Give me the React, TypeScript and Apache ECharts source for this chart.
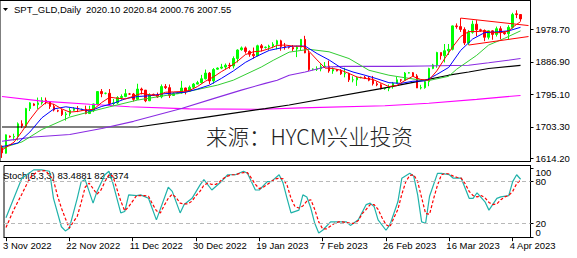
import React, { useEffect, useRef } from 'react';
import * as echarts from 'echarts';

const symbolName = 'SPT_GLD,Daily';
const watermark = '来源：HYCM兴业投资';
const stochName = 'Stoch(5,3,3)';
const tickLabels = ['3 Nov 2022', '22 Nov 2022', '11 Dec 2022', '30 Dec 2022', '19 Jan 2023', '7 Feb 2023', '26 Feb 2023', '16 Mar 2023', '4 Apr 2023'];
const holidays = ['25 Dec 2022', '1 Jan 2023'];
const priceTicks = [1614.2, 1703.3, 1795.1, 1886.9, 1978.7];
const stochLevels = [20, 80];
const stochBounds = [0, 100];

const opens = [
  1649, 1629, 1677, 1675, 1676, 1712, 1705, 1755, 1768, 1766,
  1771, 1778, 1774, 1761, 1749, 1750, 1738, 1740, 1750, 1755,
  1751, 1753, 1741, 1749, 1768, 1803, 1798, 1798, 1769, 1771,
  1786, 1789, 1796, 1796, 1781, 1810, 1807, 1777, 1795, 1793,
  1788, 1817, 1814, 1792, 1797, 1799, 1813, 1804, 1815, 1824,
  1828, 1839, 1855, 1833, 1866, 1869, 1872, 1877, 1875, 1896,
  1921, 1926, 1916, 1908, 1904, 1932, 1927, 1928, 1931, 1936,
  1946, 1930, 1927, 1927, 1923, 1928, 1950, 1912, 1866, 1866,
  1867, 1873, 1875, 1861, 1863, 1861, 1853, 1854, 1836, 1836,
  1843, 1843, 1841, 1835, 1825, 1822, 1811, 1812, 1817, 1826,
  1836, 1835, 1855, 1856, 1847, 1813, 1814, 1831, 1868, 1878,
  1913, 1904, 1918, 1922, 1988, 1986, 1978, 1940, 1970, 1993,
  1977, 1975, 1956, 1974, 1964, 1980, 1969, 1966, 1984, 2022,
  2020.10,
];
const highs = [
  1651, 1682, 1679, 1684, 1716, 1722, 1757, 1773, 1770, 1786,
  1787, 1786, 1776, 1768, 1752, 1754, 1746, 1757, 1759, 1762,
  1755, 1763, 1763, 1769, 1804, 1810, 1800, 1810, 1782, 1790,
  1795, 1810, 1799, 1799, 1825, 1814, 1807, 1798, 1797, 1800,
  1823, 1824, 1823, 1801, 1801, 1833, 1814, 1820, 1827, 1833,
  1850, 1865, 1858, 1869, 1871, 1881, 1882, 1884, 1902, 1922,
  1930, 1930, 1919, 1927, 1935, 1937, 1930, 1935, 1942, 1949,
  1949, 1940, 1929, 1934, 1932, 1951, 1960, 1918, 1868, 1874,
  1880, 1886, 1890, 1871, 1866, 1866, 1870, 1856, 1846, 1845,
  1845, 1847, 1846, 1847, 1831, 1826, 1813, 1823, 1830, 1844,
  1838, 1858, 1858, 1858, 1852, 1822, 1834, 1870, 1881, 1915,
  1913, 1937, 1937, 1989, 1995, 2010, 1984, 1976, 2003, 2004,
  1980, 1978, 1975, 1976, 1986, 1987, 1973, 1990, 2025, 2032,
  2020.84,
];
const lows = [
  1616, 1628, 1673, 1665, 1665, 1700, 1701, 1748, 1762, 1754,
  1766, 1767, 1754, 1747, 1745, 1734, 1721, 1733, 1748, 1745,
  1749, 1739, 1740, 1745, 1765, 1787, 1795, 1765, 1764, 1768,
  1780, 1787, 1794, 1775, 1779, 1795, 1773, 1776, 1791, 1785,
  1784, 1810, 1785, 1791, 1796, 1797, 1795, 1803, 1812, 1823,
  1825, 1837, 1824, 1825, 1864, 1866, 1865, 1867, 1868, 1885,
  1918, 1910, 1901, 1896, 1902, 1916, 1924, 1920, 1925, 1922,
  1918, 1921, 1924, 1917, 1900, 1919, 1911, 1861, 1863, 1861,
  1860, 1871, 1856, 1853, 1860, 1850, 1843, 1830, 1829, 1819,
  1840, 1838, 1832, 1820, 1818, 1809, 1808, 1804, 1811, 1826,
  1830, 1834, 1854, 1846, 1813, 1809, 1811, 1818, 1866, 1870,
  1893, 1885, 1906, 1919, 1980, 1971, 1934, 1934, 1966, 1959,
  1971, 1945, 1950, 1949, 1958, 1950, 1963, 1950, 1980, 2010,
  2000.76,
];
const closes = [
  1630, 1681, 1675, 1676, 1712, 1706, 1755, 1771, 1764, 1771,
  1778, 1774, 1761, 1751, 1748, 1738, 1740, 1750, 1755, 1754,
  1753, 1741, 1749, 1768, 1803, 1797, 1798, 1769, 1771, 1786,
  1789, 1797, 1796, 1781, 1810, 1807, 1777, 1793, 1793, 1788,
  1817, 1814, 1792, 1797, 1799, 1813, 1804, 1815, 1824, 1828,
  1839, 1855, 1833, 1865, 1869, 1872, 1877, 1875, 1896, 1920,
  1926, 1916, 1908, 1904, 1932, 1926, 1928, 1931, 1936, 1946,
  1930, 1928, 1927, 1923, 1928, 1950, 1912, 1865, 1866, 1867,
  1873, 1875, 1861, 1865, 1861, 1853, 1854, 1836, 1836, 1842,
  1843, 1841, 1835, 1825, 1822, 1811, 1812, 1817, 1826, 1836,
  1835, 1855, 1856, 1847, 1813, 1814, 1831, 1868, 1878, 1913,
  1904, 1918, 1922, 1988, 1986, 1978, 1940, 1970, 1993, 1977,
  1975, 1956, 1974, 1964, 1980, 1969, 1966, 1984, 2020, 2020,
  2007.55,
];

// moving averages: [bar index, price]
const maRed = [[0, 1638], [1, 1646], [3, 1660], [5, 1690], [7, 1724], [9, 1753], [11, 1772], [13, 1767], [15, 1754], [17, 1745], [19, 1747], [21, 1751], [23, 1753], [25, 1772], [27, 1787], [29, 1784], [31, 1782], [33, 1790], [35, 1798], [37, 1794], [39, 1792], [41, 1801], [43, 1802], [45, 1803], [47, 1806], [49, 1817], [51, 1832], [53, 1844], [55, 1859], [57, 1872], [59, 1888], [61, 1907], [63, 1915], [65, 1917], [67, 1924], [69, 1933], [71, 1934], [73, 1931], [75, 1931], [76, 1928], [77, 1916], [79, 1892], [81, 1869], [83, 1868], [85, 1863], [87, 1854], [89, 1844], [91, 1840], [93, 1837], [95, 1827], [97, 1817], [99, 1820], [101, 1834], [103, 1846], [104, 1841], [105, 1837], [107, 1835], [109, 1861], [111, 1896], [113, 1929], [115, 1958], [117, 1972], [119, 1972], [121, 1974], [123, 1969], [125, 1969], [127, 1973], [128, 1984], [129, 1992], [130, 2000]];
const maBlue = [[0, 1648], [1, 1650], [4, 1658], [7, 1689], [10, 1729], [13, 1754], [16, 1760], [19, 1755], [22, 1748], [25, 1761], [28, 1770], [31, 1783], [34, 1789], [37, 1791], [40, 1796], [43, 1799], [46, 1801], [49, 1810], [52, 1821], [55, 1840], [58, 1861], [61, 1885], [64, 1903], [67, 1919], [70, 1926], [73, 1931], [76, 1931], [79, 1910], [82, 1892], [85, 1870], [88, 1858], [91, 1849], [94, 1839], [97, 1828], [100, 1826], [103, 1832], [106, 1833], [109, 1851], [112, 1871], [115, 1919], [118, 1951], [121, 1969], [124, 1971], [127, 1974], [130, 1984]];
const maGreen = [[0, 1645], [1, 1647], [5, 1661], [10, 1696], [17, 1731], [22, 1746], [27, 1760], [34, 1779], [45, 1799], [54, 1821], [58, 1835], [65, 1872], [68, 1891], [72, 1914], [77, 1922], [82, 1915], [87, 1896], [92, 1863], [97, 1849], [105, 1835], [107, 1834], [112, 1846], [114, 1866], [119, 1905], [122, 1934], [126, 1953], [130, 1974]];
const maPurple = [[0, 1663], [2, 1666], [8, 1675], [17, 1682], [25, 1699], [33, 1719], [45, 1755], [53, 1783], [60, 1807], [66, 1826], [69, 1835], [72, 1849], [76, 1858], [81, 1872], [86, 1874], [99, 1874], [106, 1875], [117, 1877], [122, 1884], [130, 1896]];
const maBlack = [[0, 1703], [34, 1703], [50, 1729], [66, 1755], [72, 1765], [95, 1811], [106, 1835], [112, 1849], [117, 1858], [122, 1868], [130, 1877]];
const maMagenta = [[0, 1789], [10, 1776], [22, 1767], [32, 1760], [47, 1754], [65, 1753], [75, 1757], [96, 1763], [107, 1770], [119, 1781], [130, 1792]];

// trend channel drawn on the chart: [bar index, price]
const channelUpper = [[115, 2010], [132, 1989]];
const channelLower = [[117, 1934], [132, 1958]];

// stochastic (5,3,3): [bar index, value]
const stochMain = [[0, 28], [4, 85], [7, 97], [9, 97], [11, 95], [12, 56], [14, 15], [15, 9], [16, 13], [18, 56], [19, 80], [20, 83], [22, 49], [23, 66], [25, 90], [26, 95], [27, 78], [29, 35], [30, 37], [31, 61], [33, 60], [34, 61], [36, 56], [38, 25], [41, 72], [42, 66], [44, 35], [45, 47], [47, 56], [49, 75], [50, 83], [52, 68], [54, 78], [56, 90], [58, 90], [60, 95], [61, 92], [63, 68], [64, 68], [66, 80], [67, 80], [69, 90], [70, 78], [71, 56], [72, 35], [74, 39], [75, 61], [76, 58], [77, 42], [78, 20], [79, 6], [80, 10], [82, 22], [84, 22], [86, 22], [87, 17], [89, 25], [91, 47], [92, 49], [93, 44], [94, 25], [96, 10], [97, 18], [99, 51], [100, 85], [102, 92], [103, 88], [104, 61], [105, 22], [106, 20], [107, 59], [109, 92], [110, 92], [112, 90], [113, 85], [115, 85], [117, 56], [118, 56], [119, 64], [121, 51], [122, 39], [124, 56], [125, 58], [127, 60], [128, 80], [129, 90], [130, 83.4881]];
const stochSignal = [[0, 14], [2, 40], [4, 62], [6, 85], [8, 95], [10, 96], [12, 82], [13, 60], [14, 42], [15, 27], [16, 13], [17, 22], [18, 30], [19, 50], [20, 72], [21, 78], [22, 70], [23, 62], [24, 68], [25, 80], [26, 90], [27, 88], [28, 70], [29, 52], [30, 38], [31, 44], [32, 52], [33, 60], [34, 60], [35, 60], [36, 59], [37, 48], [38, 38], [39, 35], [40, 46], [41, 56], [42, 62], [43, 57], [44, 49], [45, 48], [46, 48], [47, 52], [48, 60], [49, 66], [50, 75], [51, 78], [52, 76], [53, 76], [54, 80], [55, 85], [56, 88], [57, 90], [58, 90], [59, 92], [60, 93], [61, 93], [62, 85], [63, 76], [64, 70], [65, 72], [66, 76], [67, 80], [68, 84], [69, 85], [70, 84], [71, 75], [72, 56], [73, 44], [74, 42], [75, 45], [76, 52], [77, 54], [78, 40], [79, 22], [80, 12], [81, 12], [82, 16], [83, 20], [84, 22], [85, 22], [86, 21], [87, 20], [88, 20], [89, 24], [90, 34], [91, 40], [92, 47], [93, 47], [94, 40], [95, 28], [96, 18], [97, 15], [98, 28], [99, 40], [100, 62], [101, 80], [102, 89], [103, 90], [104, 80], [105, 57], [106, 34], [107, 33], [108, 55], [109, 75], [110, 90], [111, 92], [112, 91], [113, 88], [114, 86], [115, 85], [116, 77], [117, 66], [118, 60], [119, 58], [120, 60], [121, 57], [122, 50], [123, 47], [124, 48], [125, 54], [126, 58], [127, 60], [128, 66], [129, 77], [130, 82.4374]];

const MONTHS = ['Jan', 'Feb', 'Mar', 'Apr', 'May', 'Jun', 'Jul', 'Aug', 'Sep', 'Oct', 'Nov', 'Dec'];
function buildDates(count: number): string[] {
  const out: string[] = [];
  const d = new Date(Date.UTC(2022, 10, 3));
  while (out.length < count) {
    const label = `${d.getUTCDate()} ${MONTHS[d.getUTCMonth()]} ${d.getUTCFullYear()}`;
    if (d.getUTCDay() !== 6 && !holidays.includes(label)) out.push(label);
    d.setUTCDate(d.getUTCDate() + 1);
  }
  return out;
}

const FONT = 'Liberation Sans';
const FS = 9.5;

function buildOption(): any {
  const dates = buildDates(opens.length);
  const categories = [...dates, ' ', '  '];
  const candleData = opens.map((o, i) => [o, closes[i], lows[i], highs[i]]);
  const last = opens.length - 1;
  const showTick = (_i: number, v: string) => tickLabels.includes(v);
  const ohlcText = [opens[last], highs[last], lows[last], closes[last]].map((v) => v.toFixed(2)).join(' ');
  const stochText = `${stochName} ${stochMain[stochMain.length - 1][1].toFixed(4)} ${stochSignal[stochSignal.length - 1][1].toFixed(4)}`;

  const ma = (data: number[][], color: string, width = 1) => ({
    type: 'line',
    data,
    xAxisIndex: 0,
    yAxisIndex: 0,
    symbol: 'none',
    showSymbol: false,
    silent: true,
    z: 3,
    lineStyle: { color, width },
  });

  const textStyle = { fontFamily: FONT, fontSize: FS, color: '#000' };
  const stochAxisBase = {
    type: 'value', gridIndex: 1, position: 'right', min: -0.45, max: 103.3, offset: 0,
    splitLine: { show: false },
  };

  return {
    animation: false,
    backgroundColor: '#fff',
    grid: [
      { left: -1.5, top: 0.5, width: 532, height: 161, show: true, borderColor: '#000', borderWidth: 1, backgroundColor: 'transparent' },
      { left: -1.5, top: 165.5, width: 532, height: 72, show: true, borderColor: '#000', borderWidth: 1, backgroundColor: 'transparent' },
    ],
    xAxis: [
      {
        type: 'category', gridIndex: 0, data: categories, boundaryGap: true,
        axisLine: { show: false }, axisTick: { show: false }, axisLabel: { show: false }, splitLine: { show: false },
      },
      {
        type: 'category', gridIndex: 1, data: categories, boundaryGap: true,
        axisLine: { show: true, lineStyle: { color: '#000', width: 1 } },
        axisTick: { show: true, interval: showTick, alignWithLabel: true, length: 4, lineStyle: { color: '#000' } },
        axisLabel: { show: true, interval: showTick, align: 'left', margin: 3, padding: [0, 0, 0, -3], showMinLabel: true, ...textStyle },
        splitLine: { show: false },
      },
    ],
    yAxis: [
      {
        type: 'value', gridIndex: 0, position: 'right', min: 1605.8, max: 2059.6,
        splitLine: { show: false },
        axisLine: { show: true, lineStyle: { color: '#000' } },
        axisTick: { show: true, customValues: priceTicks, length: 3, lineStyle: { color: '#000' } },
        axisLabel: { show: true, customValues: priceTicks, showMinLabel: true, showMaxLabel: true, formatter: (v: number) => v.toFixed(2), margin: 5, ...textStyle },
      },
      {
        ...stochAxisBase,
        axisLine: { show: true, lineStyle: { color: '#000' } },
        axisTick: { show: true, customValues: stochLevels, length: 3, lineStyle: { color: '#000' } },
        axisLabel: {
          show: true, customValues: stochLevels, margin: 5, showMinLabel: true, showMaxLabel: true,
          formatter: (v: number) => String(Math.round(v)), ...textStyle,
        },
      },
      {
        ...stochAxisBase,
        axisLine: { show: false },
        axisTick: { show: true, customValues: stochBounds, length: 3, lineStyle: { color: '#000' } },
        axisLabel: {
          show: true, customValues: stochBounds, margin: 5, showMinLabel: true, showMaxLabel: true,
          verticalAlignMinLabel: 'bottom', verticalAlignMaxLabel: 'top',
          formatter: (v: number) => String(Math.round(v)), ...textStyle,
        },
      },
    ],
    series: [
      ma(maMagenta, '#ff00ff', 1.1),
      ma(maBlack, '#000000', 1.2),
      ma(maPurple, '#8a2be2', 1.1),
      {
        type: 'candlestick',
        data: candleData,
        xAxisIndex: 0,
        yAxisIndex: 0,
        barWidth: 2,
        silent: true,
        z: 2,
        itemStyle: { color: '#00ff00', color0: '#ff0000', borderColor: '#00ff00', borderColor0: '#ff0000', borderWidth: 1 },
        markLine: {
          silent: true,
          symbol: ['none', 'none'],
          label: { show: false },
          lineStyle: { color: '#ff0000', width: 1, type: 'solid' },
          data: [
            [{ coord: channelUpper[0] }, { coord: channelUpper[1] }],
            [{ coord: channelLower[0] }, { coord: channelLower[1] }],
            {
              yAxis: closes[last],
              lineStyle: { opacity: 0 },
              label: {
                show: true, position: 'end', distance: 1.5,
                formatter: closes[last].toFixed(2),
                backgroundColor: '#000', color: '#fff', padding: [1, 3, 0, 3],
                fontFamily: FONT, fontSize: FS, lineHeight: 10,
              },
            },
          ],
        },
      },
      ma(maGreen, '#32cd32', 1),
      ma(maBlue, '#0000ff', 1),
      ma(maRed, '#ff0000', 1),
      {
        type: 'line', data: stochMain, xAxisIndex: 1, yAxisIndex: 1, symbol: 'none', showSymbol: false, silent: true, z: 3,
        lineStyle: { color: '#20b2aa', width: 1.2 },
        markLine: {
          silent: true, symbol: ['none', 'none'], label: { show: false },
          lineStyle: { color: '#b8b8b8', width: 1, type: [4, 3] },
          data: stochLevels.map((v) => ({ yAxis: v })),
        },
      },
      {
        type: 'line', data: stochSignal, xAxisIndex: 1, yAxisIndex: 1, symbol: 'none', showSymbol: false, silent: true, z: 4,
        lineStyle: { color: '#ff0000', width: 1.2, type: [3, 2] },
      },
    ],
    graphic: [
      { type: 'polygon', shape: { points: [[3, 8], [8, 8], [5.5, 11]] }, style: { fill: '#000' }, silent: true },
      { type: 'text', x: 14, y: 9, silent: true, style: { text: symbolName, fontFamily: FONT, fontSize: FS, fill: '#000', verticalAlign: 'middle' } },
      { type: 'text', x: 86, y: 9, silent: true, style: { text: ohlcText, fontFamily: FONT, fontSize: FS, fill: '#000', verticalAlign: 'middle' } },
      { type: 'text', x: 3, y: 175, silent: true, style: { text: stochText, fontFamily: FONT, fontSize: FS, fill: '#000', verticalAlign: 'middle' } },
      { type: 'text', x: 206, y: 135, silent: true, z: 10, style: { text: watermark, fontFamily: '"Noto Sans CJK SC"', fontWeight: 300, fontSize: 21.5, fill: '#222', verticalAlign: 'middle' } },
    ],
  };
}

export default function App() {
  const ref = useRef<HTMLDivElement | null>(null);
  useEffect(() => {
    if (!ref.current) return;
    const chart = echarts.init(ref.current, undefined, { renderer: 'svg' });
    chart.setOption(buildOption());
    return () => chart.dispose();
  }, []);
  return <div ref={ref} style={{ position: 'fixed', left: 0, top: 0, width: 577, height: 258, background: '#fff' }} />;
}
